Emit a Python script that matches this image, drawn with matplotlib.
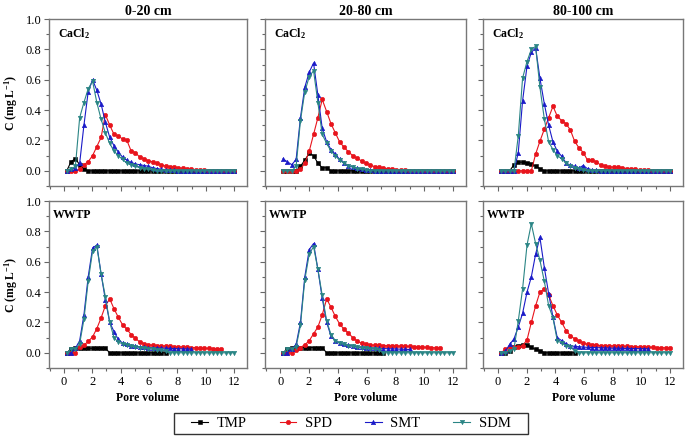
import numpy as np
import matplotlib
matplotlib.use("Agg")
import matplotlib.pyplot as plt
from matplotlib.patches import Rectangle
from matplotlib.ticker import MultipleLocator, FormatStrFormatter

plt.rcParams['font.family'] = ['Liberation Serif', 'DejaVu Serif']
plt.rcParams['mathtext.fontset'] = 'custom'
plt.rcParams['mathtext.rm'] = 'Liberation Serif:bold'
plt.rcParams['mathtext.default'] = 'rm'

# pore volume sampling points (shared by all panels)
pv = [0.2, 0.5, 0.81, 1.11, 1.41, 1.71, 2.02, 2.32, 2.62, 2.92,
      3.23, 3.53, 3.83, 4.13, 4.44, 4.74, 5.04, 5.34, 5.65, 5.95,
      6.25, 6.55, 6.86, 7.16, 7.46, 7.77, 8.07, 8.37, 8.67, 8.98,
      9.28, 9.58, 9.88, 10.19, 10.49, 10.79, 11.09, 11.4, 11.7, 12.0]

depths = ["0-20 cm", "20-80 cm", "80-100 cm"]
solutions = ["CaCl$_2$", "WWTP"]
compounds = ["TMP", "SPD", "SMT", "SDM"]

# CaCl2, 0-20 cm
tmp_c1 = [0, 0.06, 0.08, 0.04, 0.01, 0, 0, 0, 0, 0,
          0, 0, 0, 0, 0, 0, 0, 0, 0, 0,
          0, 0, 0, 0, 0, 0, 0, 0, 0, 0,
          0, 0, 0, 0, 0, 0, 0, 0, 0, 0]
spd_c1 = [0, 0, 0, 0.01, 0.04, 0.06, 0.1, 0.16, 0.22, 0.37,
          0.3, 0.24, 0.23, 0.21, 0.2, 0.13, 0.12, 0.09, 0.08, 0.065,
          0.06, 0.05, 0.04, 0.03, 0.028, 0.024, 0.02, 0.016, 0.013, 0.01,
          0.008, 0.005, 0.003, 0, 0, 0, 0, 0, 0, 0]
smt_c1 = [0, 0.01, 0.02, 0.05, 0.3, 0.52, 0.6, 0.53, 0.44, 0.32,
          0.22, 0.165, 0.125, 0.09, 0.07, 0.055, 0.045, 0.04, 0.035, 0.03,
          0.02, 0.015, 0.01, 0.008, 0.005, 0.003, 0, 0, 0, 0,
          0, 0, 0, 0, 0, 0, 0, 0, 0, 0]
sdm_c1 = [0, 0.01, 0.03, 0.35, 0.45, 0.54, 0.59, 0.45, 0.34, 0.25,
          0.18, 0.13, 0.1, 0.075, 0.05, 0.04, 0.03, 0.02, 0.015, 0.01,
          0.005, 0, 0, 0, 0, 0, 0, 0, 0, 0,
          0, 0, 0, 0, 0, 0, 0, 0, 0, 0]

# CaCl2, 20-80 cm
tmp_c2 = [0, 0, 0, 0, 0.03, 0.07, 0.115, 0.1, 0.05, 0.02,
          0.02, 0, 0, 0, 0, 0, 0, 0, 0, 0,
          0, 0, 0, 0, 0, 0, 0, 0, 0, 0,
          0, 0, 0, 0, 0, 0, 0, 0, 0, 0]
spd_c2 = [0, 0, 0, 0, 0.01, 0.05, 0.13, 0.24, 0.35, 0.47,
          0.39, 0.31, 0.25, 0.19, 0.155, 0.125, 0.1, 0.083, 0.065, 0.05,
          0.038, 0.028, 0.022, 0.018, 0.014, 0.011, 0.008, 0.006, 0.004, 0.002,
          0, 0, 0, 0, 0, 0, 0, 0, 0, 0]
smt_c2 = [0.078, 0.06, 0.04, 0.075, 0.35, 0.55, 0.65, 0.71, 0.5, 0.28,
          0.19, 0.14, 0.11, 0.075, 0.05, 0.035, 0.025, 0.018, 0.012, 0.008,
          0.005, 0, 0, 0, 0, 0, 0, 0, 0, 0,
          0, 0, 0, 0, 0, 0, 0, 0, 0, 0]
sdm_c2 = [0, 0, 0, 0.03, 0.33, 0.52, 0.62, 0.66, 0.45, 0.24,
          0.18, 0.13, 0.1, 0.07, 0.05, 0.035, 0.025, 0.015, 0.01, 0.005,
          0, 0, 0, 0, 0, 0, 0, 0, 0, 0,
          0, 0, 0, 0, 0, 0, 0, 0, 0, 0]

# CaCl2, 80-100 cm
tmp_c3 = [0, 0, 0, 0.04, 0.057, 0.057, 0.052, 0.046, 0.03, 0.015,
          0, 0, 0, 0, 0, 0, 0, 0, 0, 0,
          0, 0, 0, 0, 0, 0, 0, 0, 0, 0,
          0, 0, 0, 0, 0, 0, 0, 0, 0, 0]
spd_c3 = [0, 0, 0, 0, 0, 0, 0, 0, 0.11, 0.195,
          0.275, 0.35, 0.425, 0.36, 0.33, 0.31, 0.27, 0.195, 0.15, 0.12,
          0.068, 0.068, 0.06, 0.037, 0.03, 0.026, 0.024, 0.024, 0.02, 0.015,
          0.012, 0.01, 0.008, 0.006, 0.004, 0.002, 0, 0, 0, 0]
smt_c3 = [0, 0, 0, 0, 0.12, 0.46, 0.69, 0.78, 0.81, 0.61,
          0.44, 0.3, 0.19, 0.13, 0.096, 0.052, 0.037, 0.03, 0.02, 0.035,
          0.013, 0.008, 0.005, 0, 0, 0, 0, 0, 0, 0,
          0, 0, 0, 0, 0, 0, 0, 0, 0, 0]
sdm_c3 = [0, 0, 0, 0, 0.23, 0.61, 0.72, 0.8, 0.82, 0.55,
          0.34, 0.19, 0.14, 0.1, 0.08, 0.05, 0.03, 0.02, 0.01, 0.005,
          0, 0, 0, 0, 0, 0, 0, 0, 0, 0,
          0, 0, 0, 0, 0, 0, 0, 0, 0, 0]

# WWTP, 0-20 cm
tmp_w1 = [0, 0.026, 0.035, 0.03, 0.03, 0.03, 0.03, 0.03, 0.03, 0.03,
          0, 0, 0, 0, 0, 0, 0, 0, 0, 0,
          0, 0, 0, 0]
spd_w1 = [0, 0, 0, 0.04, 0.05, 0.075, 0.105, 0.16, 0.23, 0.31,
          0.355, 0.29, 0.235, 0.185, 0.155, 0.12, 0.095, 0.072, 0.06, 0.053,
          0.05, 0.048, 0.046, 0.044, 0.042, 0.04, 0.039, 0.038, 0.036, 0.035,
          0.034, 0.032, 0.03, 0.029, 0.027, 0.026, 0.025]
smt_w1 = [0, 0, 0.03, 0.08, 0.25, 0.5, 0.69, 0.71, 0.52, 0.35,
          0.2, 0.14, 0.088, 0.065, 0.055, 0.048, 0.043, 0.04, 0.037, 0.035,
          0.033, 0.032, 0.031, 0.03, 0.029, 0.028, 0.027, 0.026, 0.025, 0.025]
sdm_w1 = [0, 0.026, 0.026, 0.06, 0.22, 0.47, 0.67, 0.7, 0.52, 0.37,
          0.2, 0.1, 0.07, 0.06, 0.052, 0.045, 0.04, 0.035, 0.03, 0.028,
          0.025, 0.02, 0.018, 0.01, 0, 0, 0, 0, 0, 0,
          0, 0, 0, 0, 0, 0, 0, 0, 0, 0]

# WWTP, 20-80 cm
tmp_w2 = [0, 0.026, 0.035, 0.035, 0.035, 0.035, 0.035, 0.035, 0.035, 0.035,
          0, 0, 0, 0, 0, 0, 0, 0, 0, 0,
          0, 0, 0, 0]
spd_w2 = [0, 0, 0, 0.02, 0.035, 0.053, 0.08, 0.125, 0.17, 0.25,
          0.355, 0.3, 0.24, 0.19, 0.155, 0.13, 0.1, 0.078, 0.063, 0.055,
          0.052, 0.05, 0.049, 0.048, 0.047, 0.046, 0.045, 0.044, 0.043, 0.042,
          0.04, 0.039, 0.038, 0.036, 0.035, 0.033, 0.032]
smt_w2 = [0, 0, 0.026, 0.055, 0.2, 0.5, 0.68, 0.72, 0.55, 0.36,
          0.2, 0.11, 0.08, 0.064, 0.055, 0.05, 0.045, 0.04, 0.037, 0.034,
          0.032, 0.03, 0.029, 0.028, 0.027, 0.026, 0.025, 0.024, 0.023, 0.022]
sdm_w2 = [0, 0.026, 0.026, 0.04, 0.18, 0.48, 0.65, 0.7, 0.55, 0.38,
          0.21, 0.12, 0.08, 0.063, 0.055, 0.048, 0.042, 0.037, 0.033, 0.03,
          0.027, 0.024, 0.02, 0, 0, 0, 0, 0, 0, 0,
          0, 0, 0, 0, 0, 0, 0, 0, 0, 0]

# WWTP, 80-100 cm
tmp_w3 = [0, 0, 0.015, 0.04, 0.048, 0.053, 0.053, 0.037, 0.022, 0.015,
          0, 0, 0, 0, 0, 0, 0, 0]
spd_w3 = [0, 0.022, 0.037, 0.037, 0.037, 0.048, 0.085, 0.2, 0.31, 0.4,
          0.42, 0.38, 0.31, 0.25, 0.2, 0.147, 0.114, 0.092, 0.077, 0.064,
          0.055, 0.052, 0.05, 0.048, 0.047, 0.046, 0.045, 0.044, 0.043, 0.042,
          0.041, 0.04, 0.039, 0.038, 0.037, 0.036, 0.035, 0.034, 0.033, 0.032]
smt_w3 = [0, 0.01, 0.055, 0.092, 0.17, 0.26, 0.4, 0.5, 0.65, 0.76,
          0.56, 0.39, 0.235, 0.1, 0.08, 0.06, 0.048, 0.042, 0.04, 0.038,
          0.036, 0.035, 0.034, 0.033, 0.032, 0.031, 0.03, 0.03, 0.029, 0.029,
          0.028, 0.028, 0.027, 0.027, 0.026]
sdm_w3 = [0, 0, 0.015, 0.026, 0.21, 0.42, 0.71, 0.85, 0.72, 0.61,
          0.47, 0.31, 0.23, 0.08, 0.064, 0.048, 0.037, 0.015, 0, 0,
          0, 0, 0, 0, 0, 0, 0, 0, 0, 0,
          0, 0, 0, 0, 0, 0, 0, 0, 0, 0]

panels = [
    [[tmp_c1, spd_c1, smt_c1, sdm_c1],
     [tmp_c2, spd_c2, smt_c2, sdm_c2],
     [tmp_c3, spd_c3, smt_c3, sdm_c3]],
    [[tmp_w1, spd_w1, smt_w1, sdm_w1],
     [tmp_w2, spd_w2, smt_w2, sdm_w2],
     [tmp_w3, spd_w3, smt_w3, sdm_w3]],
]

colors = ["#000000", "#e8141c", "#1a1ac8", "#2a8585"]
markers = ["s", "o", "^", "v"]

W, H = 685, 442
fig = plt.figure(figsize=(W / 100, H / 100), dpi=100)

cols = [(49, 247), (265, 466), (483, 683)]
rows = [(19, 186), (201, 368)]
pv = np.array(pv)

for r, (y1, y2) in enumerate(rows):
    for c, (x1, x2) in enumerate(cols):
        ax = fig.add_axes([x1 / W, 1 - y2 / H, (x2 - x1) / W, (y2 - y1) / H])
        lines = []
        for y, col, m, name in zip(panels[r][c], colors, markers, compounds):
            ln, = ax.plot(pv[:len(y)], y, color=col, marker=m, ms=3.2,
                          lw=0.8, mew=0.4, label=name)
            lines.append(ln)
        ax.set_xlim(-1.05, 12.9)
        ax.set_ylim(-0.1, 1.0)
        ax.xaxis.set_major_locator(MultipleLocator(2))
        ax.xaxis.set_minor_locator(MultipleLocator(1))
        ax.yaxis.set_major_locator(MultipleLocator(0.2))
        ax.yaxis.set_minor_locator(MultipleLocator(0.1))
        ax.yaxis.set_major_formatter(FormatStrFormatter('%.1f'))
        ax.tick_params(which='both', direction='out', colors='#666666',
                       labelcolor='black', labelsize=9, width=0.8, pad=2)
        ax.tick_params(which='major', length=3.5)
        ax.tick_params(which='minor', length=2)
        for s in ax.spines.values():
            s.set_color('#777777')
            s.set_linewidth(1.0)
        if c > 0:
            ax.tick_params(labelleft=False)
        else:
            ax.set_ylabel("C (mg L$^{-1}$)", fontsize=8.5, fontweight='bold',
                          labelpad=4)
        if r == 0:
            ax.tick_params(labelbottom=False)
            ax.set_title(depths[c], fontsize=10, fontweight='bold', pad=3)
            ax.text(0.045, 0.915, solutions[0], transform=ax.transAxes,
                    fontsize=8.5, fontweight='bold', va='center')
        else:
            ax.set_xlabel("Pore volume", fontsize=8.5, fontweight='bold',
                          labelpad=3)
            ax.text(0.02, 0.915, solutions[1], transform=ax.transAxes,
                    fontsize=8.5, fontweight='bold', va='center')

# legend without its own frame, box drawn separately
fig.legend(lines, compounds, loc='center', ncol=4,
           bbox_to_anchor=(351 / W, 1 - 423.5 / H),
           frameon=False, fontsize=10.5, handlelength=1.15,
           columnspacing=2.25, handletextpad=0.6, borderpad=0,
           borderaxespad=0)
fig.patches.append(Rectangle((174 / W, 1 - 434 / H), 354 / W, 21 / H,
                             transform=fig.transFigure, fill=False,
                             edgecolor='#333333', linewidth=1.0))

fig.savefig("out.png", dpi=100)
